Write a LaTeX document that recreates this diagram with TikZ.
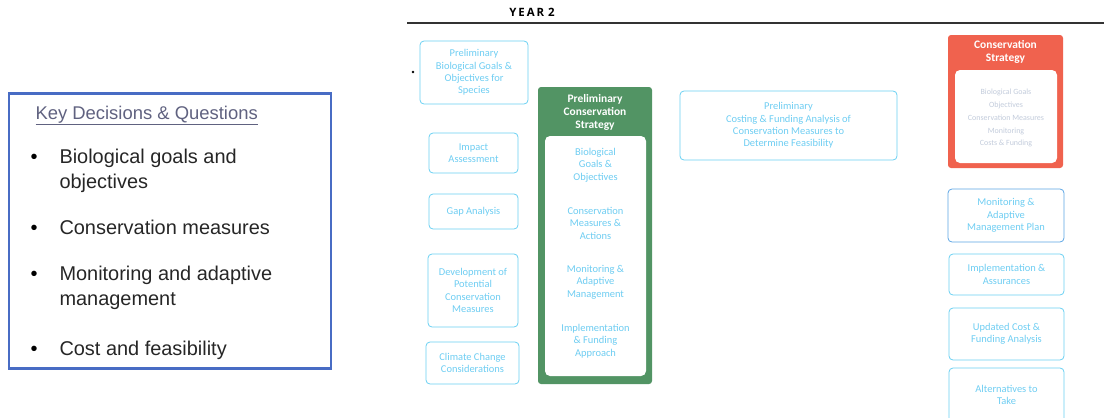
\documentclass[tikz,border=0pt]{standalone}
\usepackage{fontspec}
\setmainfont{Liberation Sans}
\newfontfamily\boxfont{Carlito}
\newfontfamily\headfont{Open Sans}
\usepackage{xcolor}
\usetikzlibrary{positioning}

\definecolor{keyblue}{RGB}{72,108,196}
\definecolor{keytitle}{RGB}{96,98,128}
\definecolor{taskcyan}{RGB}{105,208,242}
\definecolor{tasktext}{RGB}{110,205,242}
\definecolor{prelimgreen}{RGB}{82,148,100}
\definecolor{finalred}{RGB}{240,98,78}
\definecolor{planblue}{RGB}{92,165,228}
\definecolor{faintgrey}{RGB}{195,204,220}

\begin{document}
\begin{tikzpicture}[
    x=1bp, y=-1bp,
    task/.style={rectangle, draw=taskcyan, line width=0.8pt, rounded corners=4pt, align=center,
        text=tasktext, font=\boxfont\fontsize{10.5}{12.5}\selectfont, inner sep=2pt},
    phase/.style={rectangle, rounded corners=3pt, draw=none, minimum width=114bp},
    phasetitle/.style={align=center, text=white, font=\boxfont\bfseries\fontsize{11.5}{13}\selectfont},
    inner/.style={rectangle, fill=white, rounded corners=5pt, minimum width=101bp},
    innertext/.style={align=center, text=tasktext, font=\boxfont\fontsize{10.5}{12.5}\selectfont},
    keyline/.style={anchor=base west, font=\fontsize{20}{24}\selectfont, text=black!85},
    bullet/.style={anchor=base west, font=\fontsize{20}{24}\selectfont}
]
\useasboundingbox (0,0) rectangle (1104,417);

% Key decisions panel
\node[draw=keyblue, line width=2.6pt, minimum width=322bp, minimum height=275bp] (keys) at (170,231) {};
\node[anchor=base west, text=keytitle, font=\fontsize{18.5}{20}\selectfont] (keytitle) at (32,119) {\underline{Key Decisions \& Questions}};
\node[bullet] (b1) at (27,163) {•};
\node[keyline] (k1) at (56,163) {Biological goals and};
\node[keyline] (k1b) at (56,188) {objectives};
\node[bullet] (b2) at (27,234) {•};
\node[keyline] (k2) at (56,234) {Conservation measures};
\node[bullet] (b3) at (27,280) {•};
\node[keyline] (k3) at (56,280) {Monitoring and adaptive};
\node[keyline] (k3b) at (56,305) {management};
\node[bullet] (b4) at (27,355) {•};
\node[keyline] (k4) at (56,355) {Cost and feasibility};

% Year header
\node[font=\headfont\bfseries\fontsize{11.5}{13}\selectfont] (year) at (532,12) {Y\,E\,A\,R\,\,2};
\coordinate (ruleL) at (407,23);
\coordinate (ruleR) at (1104,23);
\draw[line width=1.4pt, black!80] (ruleL) -- (ruleR);
\fill (413,72) circle (1.3bp);

% Year 2 tasks, left column
\node[task, minimum width=108bp, minimum height=63bp] (goals) at (474,72.5) {Preliminary\\Biological Goals \&\\Objectives for\\Species};
\node[task, minimum width=89bp, minimum height=40bp] (impact) at (473.5,153) {Impact\\Assessment};
\node[task, minimum width=89bp, minimum height=35bp] (gap) at (473.5,211.5) {Gap Analysis};
\node[task, minimum width=90bp, minimum height=73bp] (measures) at (473,290.5) {Development of\\Potential\\Conservation\\Measures};
\node[task, minimum width=93bp, minimum height=42bp] (climate) at (472.5,363) {Climate Change\\Considerations};

% Preliminary strategy
\node[phase, fill=prelimgreen, minimum height=297bp] (prelim) at (595,235.5) {};
\node[phasetitle] (prelimtitle) at (595,112) {Preliminary\\Conservation\\Strategy};
\node[inner, minimum height=240bp] (prelimbody) at (595.5,256) {};
\node[innertext] (p1) at (595.5,165) {Biological\\Goals \&\\Objectives};
\node[innertext] (p2) at (595.5,223) {Conservation\\Measures \&\\Actions};
\node[innertext] (p3) at (595.5,282) {Monitoring \&\\Adaptive\\Management};
\node[innertext] (p4) at (595.5,341) {Implementation\\\& Funding\\Approach};

% Cost and funding
\node[task, minimum width=217bp, minimum height=69bp] (costing) at (788.5,125.5) {Preliminary\\Costing \& Funding Analysis of\\Conservation Measures to\\Determine Feasibility};

% Final strategy
\node[phase, fill=finalred, minimum height=133bp, minimum width=115bp] (final) at (1005.5,101.5) {};
\node[phasetitle] (finaltitle) at (1005.5,52) {Conservation\\Strategy};
\node[inner, minimum height=93bp, minimum width=102bp] (finalbody) at (1006,116.5) {};
\node[innertext, text=faintgrey, font=\boxfont\fontsize{8}{13}\selectfont] (f1) at (1006,118) {Biological Goals\\Objectives\\Conservation Measures\\Monitoring\\Costs \& Funding};

% Right column
\node[task, draw=planblue, minimum width=116bp, minimum height=53bp] (monitor) at (1006,215.5) {Monitoring \&\\Adaptive\\Management Plan};
\node[task, minimum width=115bp, minimum height=41bp] (assure) at (1006.5,274.5) {Implementation \&\\Assurances};
\node[task, minimum width=115bp, minimum height=52bp] (update) at (1006.5,334) {Updated Cost \&\\Funding Analysis};
\node[task, minimum width=115bp, minimum height=54bp] (alts) at (1006.5,395) {Alternatives to\\Take};

\end{tikzpicture}
\end{document}
